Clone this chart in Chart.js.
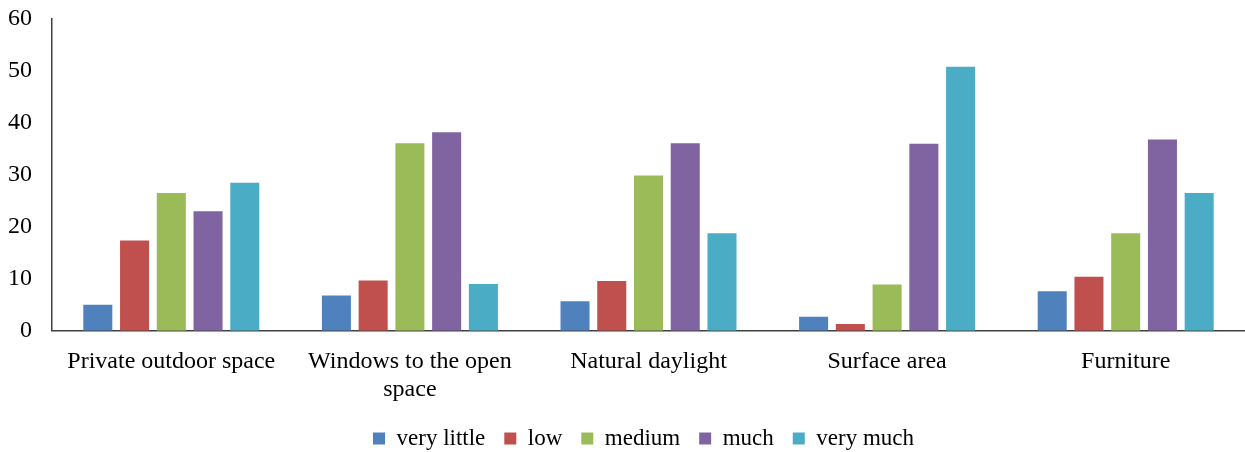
<!DOCTYPE html>
<html>
<head>
<meta charset="utf-8">
<script src="https://cdn.jsdelivr.net/npm/chart.js@4/dist/chart.umd.min.js"></script>
<style>
  html, body { margin: 0; padding: 0; background: #fff; }
  #wrap { width: 1245px; height: 452px; }
</style>
</head>
<body>
<div id="wrap"><canvas id="myChart"></canvas></div>
<script>
const categories = [
    'Private outdoor space',
    ['Windows to the open', 'space'],
    'Natural daylight',
    'Surface area',
    'Furniture'
];
const veryLittle = [5.0, 6.8, 5.7, 2.7, 7.6];
const low = [17.4, 9.7, 9.6, 1.3, 10.4];
const medium = [26.5, 36.1, 29.9, 8.9, 18.8];
const much = [23.0, 38.2, 36.1, 36.0, 36.8];
const veryMuch = [28.5, 9.0, 18.8, 50.8, 26.5];
const yTicks = [0, 10, 20, 30, 40, 50, 60];

const serif = "'Liberation Serif', 'Times New Roman', serif";

function makeSet(label, data, color) {
    return {
        label: label,
        data: data,
        backgroundColor: color,
        borderWidth: 0,
        barPercentage: 0.79,
        categoryPercentage: 0.77
    };
}

// the original legend sits a little right of the canvas centre
const nudgeLegend = {
    id: 'nudgeLegend',
    afterLayout(chart) {
        if (!chart.legend) return;
        chart.legend.left += 21;
        chart.legend.right += 21;
    }
};

const ctx = document.getElementById('myChart').getContext('2d');
new Chart(ctx, {
    type: 'bar',
    data: {
        labels: categories,
        datasets: [
            makeSet('very little', veryLittle, '#4f81bd'),
            makeSet('low', low, '#c0504d'),
            makeSet('medium', medium, '#9bbb59'),
            makeSet('much', much, '#8064a2'),
            makeSet('very much', veryMuch, '#4bacc6')
        ]
    },
    plugins: [nudgeLegend],
    options: {
        responsive: true,
        maintainAspectRatio: false,
        animation: false,
        layout: { padding: { top: 0, right: 0, left: 0, bottom: -8 } },
        plugins: {
            legend: {
                position: 'bottom',
                labels: {
                    boxWidth: 12,
                    boxHeight: 12,
                    padding: 19,
                    color: '#000',
                    font: { family: serif, size: 23 }
                }
            },
            tooltip: { enabled: false }
        },
        scales: {
            x: {
                grid: { display: false, drawTicks: false },
                border: { color: '#404040', width: 1.5 },
                afterFit: axis => { axis.height -= 13; },
                ticks: {
                    color: '#000',
                    padding: 17,
                    maxRotation: 0,
                    autoSkip: false,
                    font: { family: serif, size: 24, lineHeight: 1.17 }
                }
            },
            y: {
                min: 0,
                max: 60,
                afterBuildTicks: axis => { axis.ticks = yTicks.map(v => ({ value: v })); },
                afterFit: axis => {
                    axis.width = 52;
                    axis.paddingTop = 19;
                },
                grid: { display: false, drawTicks: false },
                border: { color: '#404040', width: 1.5 },
                ticks: {
                    color: '#000',
                    padding: 20,
                    font: { family: serif, size: 24 }
                }
            }
        }
    }
});
</script>
</body>
</html>
